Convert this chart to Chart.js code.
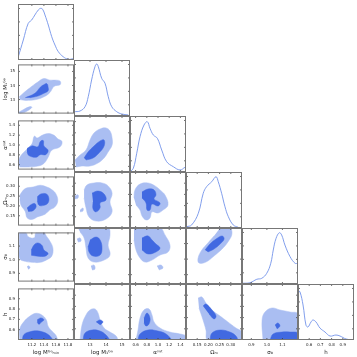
<!DOCTYPE html>
<html>
<head>
<meta charset="UTF-8">
<title>Corner plot</title>
<style>
  body { margin: 0; background: #fff; }
  #grid { position: relative; width: 357px; height: 357px; overflow: hidden; }
  #grid canvas { position: absolute; }
</style>
<script src="https://cdn.jsdelivr.net/npm/chart.js"></script>
</head>
<body>
<div id="grid"></div>
<script>
// parameters (columns / rows of the triangle)
const paramNames = ['log Mᴳᵃₘᵢₙ', 'log M₁ᴳᵃ', 'αˢᵃᵗ', 'Ωₘ', 'σ₈', 'h'];
const paramMin = [10.97, 12.0, 0.5, 0.10, 0.84, 0.5];
const paramMax = [11.9, 15.5, 1.5, 0.35, 1.2, 1.0];
const paramTicks = [
  [11.2, 11.4, 11.6, 11.8],
  [13, 14, 15],
  [0.6, 0.8, 1.0, 1.2, 1.4],
  [0.15, 0.20, 0.25, 0.30],
  [0.9, 1.0, 1.1],
  [0.6, 0.7, 0.8, 0.9]
];
const tickDecimals = [1, 0, 1, 2, 1, 1];
const densityTicks = [0.2, 0.44, 0.68, 0.92];

// 1D marginals (normalised density)
const kdeMmin = [[10.975,0.059],[11.058,0.357],[11.14,0.655],[11.197,0.714],[11.25,0.804],[11.307,0.893],[11.347,0.923],[11.38,0.905],[11.418,0.804],[11.473,0.625],[11.53,0.416],[11.584,0.268],[11.64,0.148],[11.72,0.059],[11.805,0.013],[11.888,0.023]];
const kdeM1 = [[12.0,0.077],[12.375,0.089],[12.69,0.166],[12.89,0.345],[13.1,0.643],[13.31,0.88],[13.42,0.929],[13.52,0.88],[13.73,0.673],[13.94,0.584],[14.14,0.345],[14.36,0.166],[14.67,0.077],[14.98,0.036],[15.39,0.018]];
const kdeAlpha = [[0.5,0.005],[0.559,0.066],[0.62,0.334],[0.679,0.63],[0.75,0.839],[0.809,0.898],[0.857,0.78],[0.916,0.661],[0.988,0.602],[1.066,0.393],[1.155,0.184],[1.273,0.095],[1.393,0.036],[1.482,0.084]];
const kdeOmega = [[0.103,0.023],[0.125,0.054],[0.155,0.263],[0.177,0.62],[0.192,0.738],[0.215,0.827],[0.234,0.916],[0.244,0.827],[0.259,0.62],[0.274,0.38],[0.289,0.202],[0.311,0.054],[0.333,0.013]];
const kdeSigma8 = [[0.84,0.013],[0.891,0.023],[0.935,0.084],[0.967,0.102],[0.999,0.191],[1.025,0.37],[1.041,0.607],[1.059,0.816],[1.08,0.916],[1.095,0.875],[1.116,0.696],[1.149,0.488],[1.181,0.37],[1.198,0.37]];
const kdeH = [[0.5,0.893],[0.518,0.857],[0.545,0.625],[0.571,0.268],[0.589,0.232],[0.616,0.321],[0.634,0.357],[0.661,0.321],[0.696,0.214],[0.741,0.143],[0.786,0.071],[0.839,0.089],[0.875,0.071],[0.929,0.018],[0.982,0.0]];
const marginals = [kdeMmin, kdeM1, kdeAlpha, kdeOmega, kdeSigma8, kdeH];

// 2D credible regions: outer (95%) and inner (68%) polygons, [x, y] in data units
const mminM1_95 = [
  [[10.99,13.19],[11.07,13.5],[11.20,13.94],[11.30,14.25],[11.40,14.5],[11.50,14.38],[11.60,14.38],[11.67,14.31],[11.67,14.06],[11.57,13.94],[11.50,13.5],[11.40,13.19],[11.27,13.0],[11.10,12.94],[11.0,13.0]],
  [[10.97,12.06],[11.07,12.31],[11.17,12.5],[11.2,12.44],[11.10,12.13],[11.0,12.0]]
];
const mminM1_68 = [[[11.09,13.13],[11.25,13.44],[11.34,13.88],[11.40,14.06],[11.45,14.13],[11.47,13.88],[11.47,13.63],[11.40,13.44],[11.30,13.25],[11.17,13.13]]];

const mminAlpha_95 = [[[10.97,0.607],[11.0,0.75],[11.10,0.893],[11.20,1.018],[11.24,1.18],[11.29,1.143],[11.37,1.196],[11.47,1.232],[11.57,1.196],[11.63,1.125],[11.70,1.07],[11.67,0.964],[11.53,0.893],[11.47,0.75],[11.40,0.625],[11.30,0.571],[11.14,0.553],[11.0,0.553]]];
const mminAlpha_68 = [[[11.12,0.929],[11.20,0.982],[11.30,0.964],[11.34,1.071],[11.39,1.089],[11.40,0.982],[11.47,0.893],[11.43,0.804],[11.34,0.804],[11.27,0.75],[11.15,0.786],[11.12,0.857]]];

const mminOmega_95 = [[[11.0,0.256],[11.09,0.288],[11.22,0.296],[11.34,0.305],[11.45,0.296],[11.53,0.283],[11.60,0.261],[11.63,0.225],[11.58,0.194],[11.50,0.18],[11.42,0.158],[11.30,0.145],[11.20,0.131],[11.12,0.14],[11.09,0.172],[11.02,0.203],[11.0,0.234]]];
const mminOmega_68 = [
  [[11.29,0.247],[11.35,0.261],[11.44,0.261],[11.48,0.243],[11.47,0.216],[11.40,0.203],[11.32,0.203],[11.29,0.225]],
  [[11.12,0.189],[11.19,0.207],[11.25,0.212],[11.27,0.194],[11.22,0.176],[11.14,0.172]]
];

const mminSigma8_95 = [
  [[10.99,1.2],[11.10,1.2],[11.14,1.168],[11.24,1.161],[11.27,1.2],[11.40,1.2],[11.44,1.174],[11.50,1.136],[11.55,1.084],[11.53,1.026],[11.45,1.0],[11.34,0.981],[11.20,0.981],[11.09,0.988],[11.0,1.007],[10.99,1.09]],
  [[11.12,0.949],[11.15,0.955],[11.17,0.942],[11.14,0.93]]
];
const mminSigma8_68 = [[[11.19,1.071],[11.24,1.11],[11.30,1.123],[11.37,1.104],[11.40,1.071],[11.47,1.046],[11.42,1.026],[11.30,1.026],[11.19,1.033]]];

const mminH_95 = [[[11.0,0.5],[11.0,0.607],[11.07,0.679],[11.17,0.732],[11.27,0.759],[11.37,0.741],[11.44,0.696],[11.47,0.634],[11.53,0.589],[11.60,0.545],[11.63,0.5]]];
const mminH_68 = [
  [[11.04,0.5],[11.07,0.554],[11.17,0.58],[11.27,0.589],[11.37,0.58],[11.47,0.554],[11.53,0.518],[11.55,0.5]],
  [[11.29,0.696],[11.35,0.714],[11.40,0.696],[11.35,0.67],[11.32,0.652],[11.29,0.67]]
];

const m1Alpha_95 = [[[12.06,0.714],[12.38,0.804],[12.75,0.893],[13.0,1.071],[13.25,1.196],[13.63,1.268],[14.0,1.286],[14.25,1.232],[14.38,1.107],[14.38,0.982],[14.13,0.857],[13.88,0.75],[13.5,0.661],[13.0,0.607],[12.5,0.607],[12.13,0.589]]];
const m1Alpha_68 = [[[12.63,0.75],[12.88,0.857],[13.25,0.964],[13.63,1.054],[13.88,1.071],[13.88,0.964],[13.56,0.839],[13.19,0.75],[12.75,0.714]]];

const m1Omega_95 = [
  [[12.63,0.27],[12.81,0.292],[13.25,0.301],[13.75,0.301],[14.13,0.288],[14.38,0.256],[14.25,0.216],[14.38,0.172],[14.0,0.14],[13.38,0.131],[12.94,0.149],[12.75,0.19],[12.63,0.234]],
  [[12.06,0.243],[12.25,0.248],[12.25,0.234],[12.06,0.23]],
  [[12.38,0.18],[12.56,0.189],[12.56,0.176],[12.38,0.172]]
];
const m1Omega_68 = [[[13.13,0.256],[13.5,0.265],[13.88,0.252],[14.0,0.225],[13.63,0.212],[13.63,0.19],[13.38,0.172],[13.19,0.185],[13.19,0.216]]];

const m1Sigma8_95 = [
  [[12.25,1.2],[14.13,1.2],[14.25,1.155],[14.13,1.09],[14.25,1.026],[13.88,0.994],[13.25,0.981],[12.88,1.007],[12.75,1.071],[12.63,1.136],[12.38,1.174]],
  [[12.19,1.129],[12.38,1.136],[12.44,1.116],[12.25,1.11]],
  [[13.06,0.956],[13.25,0.962],[13.31,0.936],[13.13,0.93]]
];
const m1Sigma8_68 = [[[13.0,1.123],[13.38,1.142],[13.63,1.123],[13.75,1.071],[13.63,1.026],[13.19,1.02],[12.94,1.046],[12.88,1.084]]];

const m1H_95 = [[[12.38,0.5],[12.5,0.634],[12.75,0.723],[13.0,0.768],[13.31,0.777],[13.5,0.741],[13.63,0.679],[13.88,0.607],[14.25,0.571],[14.63,0.536],[14.75,0.5]]];
const m1H_68 = [
  [[12.56,0.5],[12.69,0.562],[13.13,0.589],[13.63,0.58],[14.0,0.545],[14.25,0.5]],
  [[13.38,0.661],[13.63,0.679],[13.81,0.661],[13.63,0.634]]
];

const alphaOmega_95 = [[[0.571,0.234],[0.589,0.27],[0.679,0.296],[0.821,0.301],[0.946,0.288],[1.036,0.27],[1.125,0.247],[1.179,0.203],[1.089,0.18],[1.0,0.167],[0.893,0.172],[0.857,0.145],[0.786,0.136],[0.714,0.154],[0.679,0.18],[0.607,0.203]]];
const alphaOmega_68 = [[[0.714,0.261],[0.821,0.274],[0.929,0.27],[0.964,0.247],[0.929,0.23],[1.036,0.212],[1.0,0.198],[0.893,0.207],[0.857,0.18],[0.804,0.18],[0.786,0.212],[0.714,0.234]]];

const alphaSigma8_95 = [
  [[0.571,1.2],[1.036,1.2],[1.125,1.155],[1.214,1.09],[1.179,1.046],[1.036,1.026],[0.893,0.994],[0.768,0.981],[0.679,1.007],[0.607,1.059],[0.571,1.123]],
  [[0.982,0.956],[1.054,0.962],[1.089,0.943],[1.018,0.93]]
];
const alphaSigma8_68 = [[[0.714,1.136],[0.821,1.149],[0.893,1.123],[0.964,1.097],[1.036,1.071],[0.964,1.046],[0.821,1.033],[0.714,1.059]]];

const alphaH_95 = [[[0.607,0.5],[0.643,0.589],[0.679,0.696],[0.75,0.768],[0.839,0.777],[0.893,0.723],[0.929,0.661],[1.036,0.607],[1.214,0.571],[1.393,0.554],[1.5,0.536],[1.5,0.5]]];
const alphaH_68 = [
  [[0.643,0.5],[0.679,0.554],[0.821,0.589],[1.0,0.58],[1.143,0.554],[1.25,0.5]],
  [[0.75,0.696],[0.804,0.741],[0.857,0.696],[0.839,0.643],[0.786,0.625],[0.75,0.652]]
];

const omegaSigma8_95 = [[[0.252,1.2],[0.296,1.2],[0.305,1.161],[0.287,1.11],[0.261,1.065],[0.225,1.02],[0.189,0.981],[0.158,0.975],[0.154,1.007],[0.171,1.059],[0.198,1.104],[0.225,1.149]]];
const omegaSigma8_68 = [[[0.185,1.059],[0.207,1.097],[0.234,1.129],[0.261,1.149],[0.27,1.129],[0.252,1.097],[0.225,1.065],[0.198,1.046]]];

const omegaH_95 = [[[0.154,0.875],[0.171,0.884],[0.189,0.83],[0.216,0.768],[0.252,0.714],[0.287,0.661],[0.323,0.607],[0.35,0.571],[0.35,0.5],[0.198,0.5],[0.189,0.589],[0.176,0.679],[0.158,0.786]]];
const omegaH_68 = [
  [[0.176,0.804],[0.189,0.821],[0.216,0.768],[0.234,0.714],[0.225,0.688],[0.203,0.732]],
  [[0.207,0.5],[0.216,0.562],[0.252,0.589],[0.296,0.571],[0.323,0.536],[0.332,0.5]]
];

const sigma8H_95 = [[[0.975,0.5],[0.969,0.679],[0.988,0.75],[1.033,0.786],[1.084,0.768],[1.149,0.75],[1.2,0.732],[1.2,0.5]]];
const sigma8H_68 = [
  [[1.052,0.634],[1.071,0.652],[1.084,0.625],[1.065,0.598]],
  [[1.02,0.5],[1.04,0.554],[1.097,0.571],[1.149,0.571],[1.2,0.562],[1.2,0.5]]
];

// [row, col, outer, inner]
const contours = [
  [1, 0, mminM1_95, mminM1_68],
  [2, 0, mminAlpha_95, mminAlpha_68],
  [3, 0, mminOmega_95, mminOmega_68],
  [4, 0, mminSigma8_95, mminSigma8_68],
  [5, 0, mminH_95, mminH_68],
  [2, 1, m1Alpha_95, m1Alpha_68],
  [3, 1, m1Omega_95, m1Omega_68],
  [4, 1, m1Sigma8_95, m1Sigma8_68],
  [5, 1, m1H_95, m1H_68],
  [3, 2, alphaOmega_95, alphaOmega_68],
  [4, 2, alphaSigma8_95, alphaSigma8_68],
  [5, 2, alphaH_95, alphaH_68],
  [4, 3, omegaSigma8_95, omegaSigma8_68],
  [5, 3, omegaH_95, omegaH_68],
  [5, 4, sigma8H_95, sigma8H_68]
];

const X0 = 18, Y0 = 4, CELL = 56;
const lightBlue = '#aabef2';
const darkBlue = '#4169e1';
const lineBlue = '#7393ea';
const tickFont = { family: 'DejaVu Sans', size: 4 };
const titleFont = { family: 'DejaVu Sans', size: 5.5 };
const grid = document.getElementById('grid');

// frame and inward tick marks
const framePlugin = {
  id: 'frame',
  afterDraw(chart) {
    const { ctx, chartArea: a, scales: { x, y } } = chart;
    ctx.save();
    ctx.strokeStyle = '#333';
    ctx.lineWidth = 0.7;
    ctx.beginPath();
    x.ticks.forEach(t => {
      const px = x.getPixelForValue(t.value);
      ctx.moveTo(px, a.bottom); ctx.lineTo(px, a.bottom - 2);
      ctx.moveTo(px, a.top); ctx.lineTo(px, a.top + 2);
    });
    y.ticks.forEach(t => {
      const py = y.getPixelForValue(t.value);
      ctx.moveTo(a.left, py); ctx.lineTo(a.left + 2, py);
      ctx.moveTo(a.right, py); ctx.lineTo(a.right - 2, py);
    });
    ctx.stroke();
    ctx.strokeStyle = '#777';
    ctx.lineWidth = 1;
    ctx.strokeRect(a.left + 0.5, a.top + 0.5, a.width - 1, a.height - 1);
    ctx.restore();
  }
};

function makePanel(row, col, datasets, yMin, yMax, yTicks, yDecimals, yTitle) {
  const padL = col === 0 ? X0 : 3;
  const padB = row === 5 ? 357 - (Y0 + 6 * CELL) : 3;
  const canvas = document.createElement('canvas');
  canvas.width = CELL + padL + 1;
  canvas.height = CELL + padB + 1;
  canvas.style.left = (X0 + col * CELL - padL) + 'px';
  canvas.style.top = (Y0 + row * CELL - 1) + 'px';
  grid.appendChild(canvas);

  new Chart(canvas, {
    type: 'line',
    data: { datasets: datasets },
    options: {
      responsive: false,
      animation: false,
      events: [],
      layout: { padding: { top: 1, right: 1, left: 0, bottom: 0 } },
      plugins: { legend: { display: false }, tooltip: { enabled: false } },
      elements: { point: { radius: 0 } },
      scales: {
        x: {
          type: 'linear',
          min: paramMin[col],
          max: paramMax[col],
          grid: { display: false, drawTicks: false },
          border: { display: false },
          afterBuildTicks: s => { s.ticks = paramTicks[col].map(v => ({ value: v })); },
          ticks: {
            display: row === 5, autoSkip: false, maxRotation: 0, padding: 2.5,
            font: tickFont, color: '#222',
            callback: v => v.toFixed(tickDecimals[col])
          },
          title: {
            display: row === 5, text: paramNames[col], font: titleFont, color: '#222',
            padding: { top: 0, bottom: 1.5 }
          },
          afterFit: s => { s.height = padB; }
        },
        y: {
          type: 'linear',
          min: yMin,
          max: yMax,
          grid: { display: false, drawTicks: false },
          border: { display: false },
          afterBuildTicks: s => { s.ticks = yTicks.map(v => ({ value: v })); },
          ticks: {
            display: col === 0 && row > 0, autoSkip: false, padding: 3,
            font: tickFont, color: '#222',
            callback: v => v.toFixed(yDecimals)
          },
          title: {
            display: col === 0 && row > 0, text: yTitle, font: titleFont, color: '#222',
            padding: { top: 2.5, bottom: 0 }
          },
          afterFit: s => { s.width = padL; }
        }
      }
    },
    plugins: [framePlugin]
  });
}

function polygonSet(polys, color) {
  return polys.map(p => ({
    data: p,
    backgroundColor: color,
    borderColor: color,
    borderWidth: 0.5,
    fill: 'shape',
    tension: 0.4,
    pointRadius: 0
  }));
}

// diagonal: marginals
for (let i = 0; i < 6; i++) {
  makePanel(i, i, [{
    data: marginals[i],
    borderColor: lineBlue,
    borderWidth: 0.9,
    fill: false,
    tension: 0.4,
    pointRadius: 0
  }], 0, 1, densityTicks, 1, '');
}

// lower triangle: 2D contours (inner first so it is drawn on top)
contours.forEach(([row, col, outer, inner]) => {
  const datasets = polygonSet(inner, darkBlue).concat(polygonSet(outer, lightBlue));
  makePanel(row, col, datasets, paramMin[row], paramMax[row], paramTicks[row], tickDecimals[row], paramNames[row]);
});
</script>
</body>
</html>
